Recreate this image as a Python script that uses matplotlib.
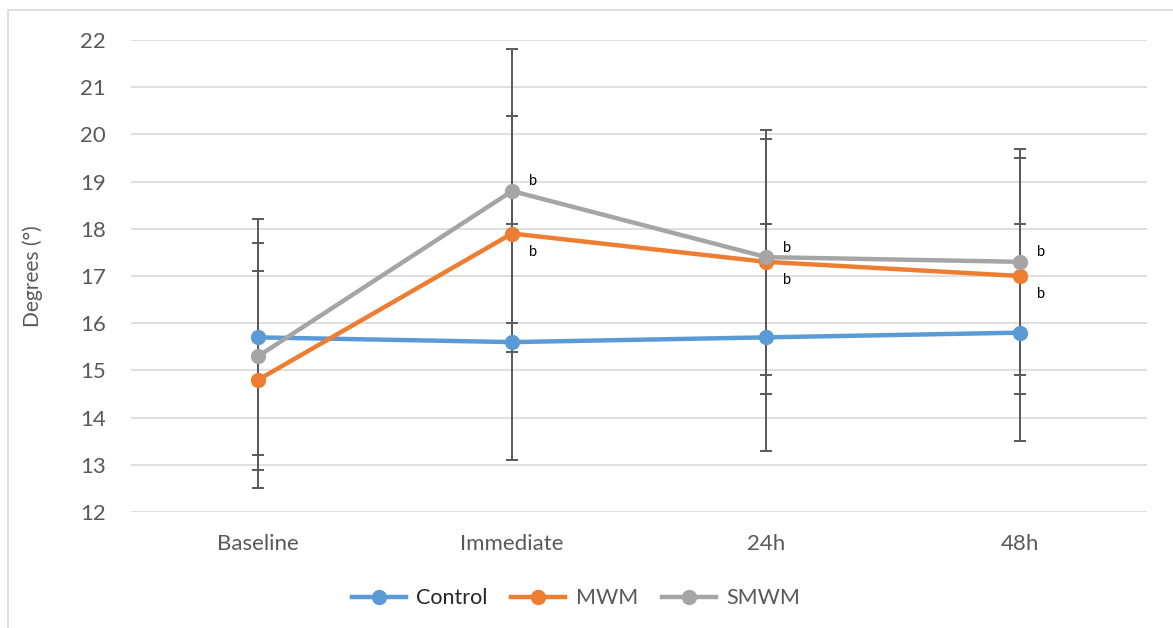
import numpy as np
import matplotlib.pyplot as plt
from matplotlib.patches import Rectangle

# data
times = ['Baseline', 'Immediate', '24h', '48h']
control = [15.7, 15.6, 15.7, 15.8]
control_lo = [2.5, 2.5, 2.4, 2.3]
control_hi = [2.5, 2.5, 2.4, 2.3]
mwm = [14.8, 17.9, 17.3, 17.0]
mwm_lo = [2.3, 2.5, 2.8, 2.5]
mwm_hi = [2.3, 2.5, 2.8, 2.5]
smwm = [15.3, 18.8, 17.4, 17.3]
smwm_lo = [2.4, 2.8, 2.5, 2.4]
smwm_hi = [2.4, 3.0, 2.5, 2.4]
# points carrying the "b" significance mark
mwm_marks = [1, 2, 3]
smwm_marks = [1, 2, 3]

grey_txt = '#595959'
plt.rcParams['font.family'] = ['Lato', 'DejaVu Sans']

fig = plt.figure(figsize=(11.73, 6.28), dpi=100)
ax = fig.add_axes([0.1117, 0.1847, 0.8664, 0.7516])

# chart border (left and top visible)
fig.patches.append(Rectangle((8 / 1173, -0.1), 1.2, (628 - 10) / 628 + 0.1,
                             transform=fig.transFigure, fill=False,
                             edgecolor='#D9D9D9', lw=1.2))

x = np.arange(len(times))
series = [
    ('Control', control, control_lo, control_hi, '#5B9BD5'),
    ('MWM', mwm, mwm_lo, mwm_hi, '#ED7D31'),
    ('SMWM', smwm, smwm_lo, smwm_hi, '#A5A5A5'),
]
for name, vals, lo, hi, col in series:
    ax.errorbar(x, vals, yerr=[lo, hi], fmt='none', ecolor='#595959',
                elinewidth=1.4, capsize=4.5, capthick=1.4, zorder=2)
for name, vals, lo, hi, col in series:
    ax.plot(x, vals, color=col, lw=3.2, marker='o', markersize=10,
            label=name, zorder=3)

for i in smwm_marks:
    ax.annotate('b', (x[i], smwm[i]), xytext=(12, 4), textcoords='offset points',
                fontsize=10.5, color='black')
for i in mwm_marks:
    ax.annotate('b', (x[i], mwm[i]), xytext=(12, -16), textcoords='offset points',
                fontsize=10.5, color='black')

ax.set_xlim(-0.5, len(times) - 0.5)
ax.set_ylim(12, 22)
ax.set_yticks(np.arange(12, 23, 1))
ax.set_xticks(x)
ax.set_xticklabels(times)
ax.grid(axis='y', color='#D9D9D9', lw=1.2)
ax.set_axisbelow(True)
for s in ax.spines.values():
    s.set_visible(False)
ax.tick_params(length=0, labelsize=16, colors=grey_txt)
ax.tick_params(axis='y', pad=18)
ax.tick_params(axis='x', pad=16)
ax.set_ylabel('Degrees (°)', fontsize=15, color=grey_txt, labelpad=27)

leg = ax.legend(loc='center', bbox_to_anchor=(0.438, -0.183), ncol=3,
                frameon=False, fontsize=15.5, handlelength=2.5,
                handletextpad=0.5, columnspacing=1.1)
for t in leg.get_texts():
    t.set_color(grey_txt)
leg.get_texts()[0].set_color('#262626')

fig.savefig('out.png', dpi=100)
